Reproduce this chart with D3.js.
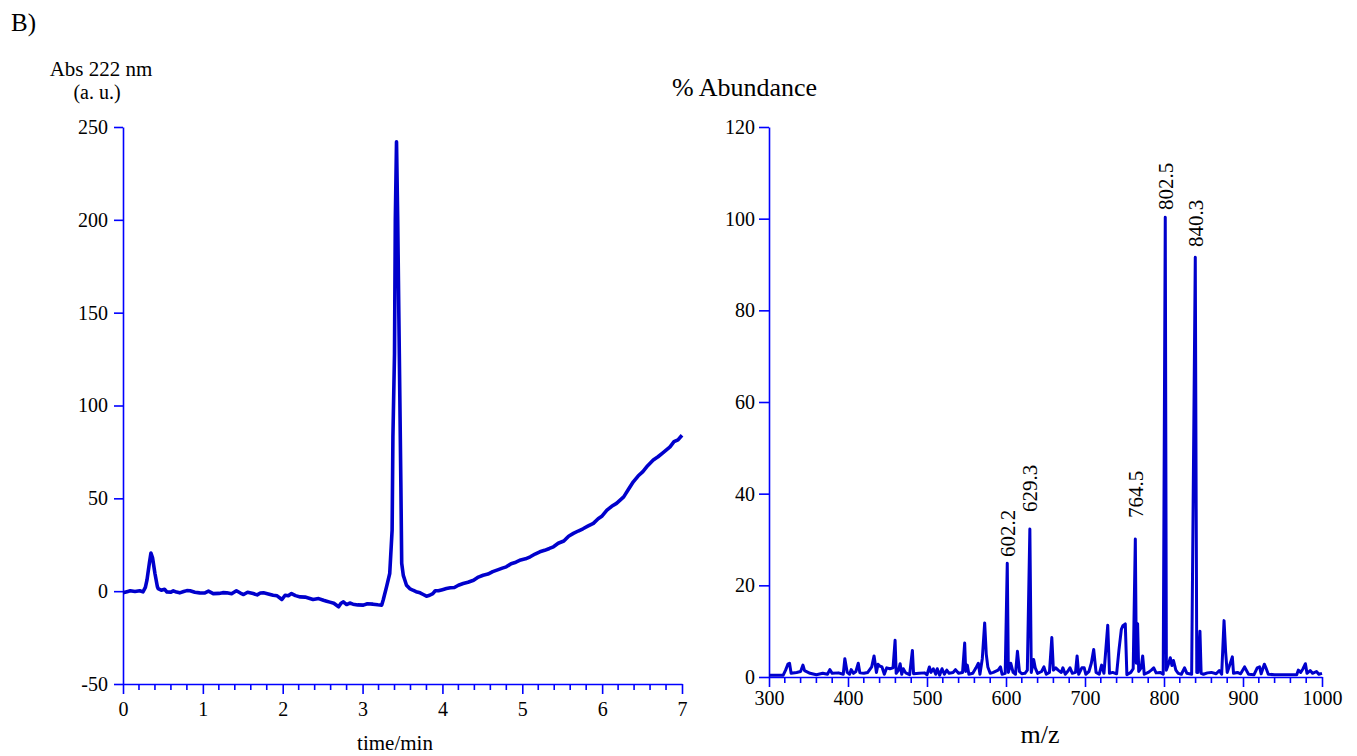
<html>
<head>
    <script src="https://cdnjs.cloudflare.com/ajax/libs/d3/7.8.5/d3.min.js"></script>
    <style>
        body { margin: 0; background: white; }
    </style>
</head>
<body>
<script>

// chromatogram, Abs 222 nm vs time (min)
var chromTime = [0.00,0.05,0.09,0.15,0.21,0.25,0.28,0.30,0.33,0.35,0.37,0.40,0.43,0.44,0.48,0.52,0.55,0.60,0.63,0.67,
    0.71,0.76,0.80,0.84,0.90,0.96,1.02,1.07,1.13,1.20,1.25,1.30,1.36,1.42,1.47,1.51,1.56,1.63,1.68,1.72,
    1.76,1.82,1.88,1.93,1.99,2.03,2.07,2.11,2.16,2.22,2.28,2.33,2.38,2.45,2.51,2.55,2.59,2.64,2.70,2.73,
    2.76,2.80,2.84,2.88,2.94,3.01,3.06,3.13,3.19,3.24,3.26,3.30,3.34,3.37,3.38,3.40,3.41,3.425,3.44,3.46,
    3.48,3.49,3.51,3.53,3.55,3.59,3.63,3.67,3.72,3.76,3.80,3.84,3.88,3.91,3.95,4.00,4.05,4.10,4.15,4.20,
    4.26,4.32,4.39,4.45,4.51,4.57,4.63,4.70,4.75,4.80,4.86,4.92,4.98,5.04,5.10,5.16,5.22,5.28,5.34,5.39,
    5.45,5.52,5.58,5.64,5.70,5.76,5.82,5.89,5.95,6.00,6.06,6.12,6.18,6.27,6.33,6.39,6.45,6.51,6.57,6.64,
    6.70,6.76,6.85,6.90,6.95,7.00];
var chromAbs = [-0.9,-0.3,0.2,-0.2,0.2,-0.4,2.0,5.9,15,20.5,18,9.5,2.5,1.4,0.5,1.0,-0.4,-0.5,0.2,-0.5,
    -0.9,-0.2,0.3,0.2,-0.6,-0.9,-1.0,0,-1.3,-1.2,-0.8,-0.9,-1.4,0.2,-1.0,-1.8,-0.6,-1.3,-2.0,-1.0,
    -0.9,-1.5,-2.2,-2.5,-4.5,-2.2,-2.5,-1.3,-2.4,-3.1,-3.2,-3.8,-4.5,-4.0,-4.9,-5.4,-5.9,-6.5,-8.4,-6.5,
    -5.8,-7.2,-6.4,-7.0,-7.4,-7.5,-6.8,-7.0,-7.3,-7.5,-4.5,2.3,9.5,32.9,83,128,200,242,200,128,
    56,15,8.5,5.9,3.2,1.4,0.5,-0.3,-0.9,-1.8,-2.7,-2.2,-1.3,0.2,0.2,0.8,1.4,1.8,2.0,3.2,
    4.1,4.8,5.9,7.6,8.6,9.2,10.5,11.6,12.4,13.1,14.8,15.6,16.8,17.4,18.5,20.0,21.2,22.0,23.0,23.9,
    25.8,27.0,29.6,31.1,32.4,33.6,35.0,36.5,39.0,40.5,43.6,45.7,47.3,50.8,54.9,58.9,62.0,64.4,67.6,70.6,
    72.4,74.5,77.7,80.5,81.5,84.0];

// mass spectrum, % abundance vs m/z
var msMz = [300,318,321,324,326,328,335,340,343,345,352,360,368,374,377,380,388,394,396,399,
    402,404,407,410,413,415,420,425,430,433,436,438,440,443,446,449,453,457,459.6,461,
    464,466,468,470,473,478,481.5,483,490,497,500,503,505,508,511,513,516,519,522,525,
    528,533,536,540,545,547.7,549,551,553,558,562,565,567,570,573,575,577,580,584,590,
    593,595,599,601.6,603,606,609,612,614.5,617,620,624,627,630.2,632,635,637,640,645,648,
    651,655,658,660,663,666,670,672,675,678,681,684,688,690,692,696,699,701,705,708,
    711,714,718,721,724,728.8,731,735,740,743,746,748,751,753,758,761,763.7,765,766.6,768,
    771,773,775,780,784,787,790,795,799,801.6,803,806,808,810,812,815,818,822,826,829,
    835,839.6,841.5,843,845.5,847,850,855,860,866,870,873,876,878,880,883,886.5,888,893,897,
    902,907,914,918,921,923,927,929,932,940,960,968,970,973,976,979,981,985,988,993,
    996,1000];
var msAbund = [0.4,0.4,1.5,2.8,3.0,0.8,1.0,1.2,2.6,1.4,0.8,0.5,0.8,0.6,1.6,0.8,0.9,0.6,4.0,1.0,
    0.6,1.6,0.8,1.2,3.0,0.9,0.8,1.0,2.2,4.6,1.0,2.8,2.4,2.2,0.6,2.0,1.8,2.0,8.0,0.8,
    1.5,2.9,0.6,1.8,0.9,0.5,5.8,0.7,0.8,0.9,0.5,2.2,1.0,1.8,0.6,1.8,0.4,1.8,0.6,1.5,
    0.8,1.0,1.6,0.8,1.0,7.4,1.2,2.6,0.6,0.8,2.0,3.0,0.6,4.0,11.8,5.0,2.2,0.8,1.0,1.5,
    2.2,0.6,0.8,24.8,1.0,3.0,1.0,0.6,5.6,1.2,0.7,0.8,1.5,32.3,1.0,3.8,2.0,0.8,1.2,2.2,
    0.6,1.0,8.6,1.5,2.0,1.5,1.0,2.0,0.6,1.2,2.0,0.8,1.0,4.6,0.6,2.0,2.0,0.6,1.2,3.0,
    6.0,1.0,0.6,2.6,0.8,11.3,0.8,1.0,0.7,5.9,10.4,11.2,11.6,0.5,1.0,1.8,30.1,3.0,11.6,1.2,
    2.0,4.6,0.6,1.0,1.5,2.0,0.9,1.0,0.6,100.3,1.5,3.0,4.2,2.5,3.6,1.5,0.8,0.6,2.0,0.8,
    0.6,91.6,1.0,1.0,10.0,0.8,0.6,0.9,1.0,0.7,1.4,0.6,12.3,5.5,1.0,2.5,4.4,0.8,1.0,0.7,
    2.2,0.6,0.5,2.0,2.2,0.7,2.8,2.0,0.6,0.5,0.5,0.5,1.5,1.0,1.8,2.9,0.8,1.4,0.8,1.2,
    0.6,0.8];

// peak labels: m/z position, text, abundance where the label starts
var peakMz = [601.6, 630.2, 763.7, 801.6, 839.6];
var peakText = ["602.2", "629.3", "764.5", "802.5", "840.3"];
var peakLabelAt = [26.2, 36.0, 34.7, 101.9, 93.8];

var chromYTicks = [-50, 0, 50, 100, 150, 200, 250];
var chromXTicks = [0, 1, 2, 3, 4, 5, 6, 7];
var msYTicks = [0, 20, 40, 60, 80, 100, 120];
var msXTicks = [300, 400, 500, 600, 700, 800, 900, 1000];

var axisColor = "#0000ff";
var lineColor = "#0000cc";
var serif = "Liberation Serif";

var svg = d3.select("body").append("svg")
    .attr("width", 1357)
    .attr("height", 756)
    .attr("font-family", serif);

function label(x, y, size, txt, anchor) {
    return svg.append("text")
        .attr("x", x).attr("y", y)
        .attr("text-anchor", anchor || "start")
        .attr("font-family", serif)
        .attr("font-size", size)
        .attr("fill", "black")
        .text(txt);
}

label(11, 31, 25, "B)");

// ---------- left: chromatogram ----------
var x1 = d3.scaleLinear().domain([0, 7]).range([123, 682]);
var y1 = d3.scaleLinear().domain([-50, 250]).range([684, 127]);

function styleAxis(g) {
    g.attr("font-family", serif).attr("font-size", 20);
    g.select(".domain").attr("stroke", axisColor).attr("stroke-width", 1.6);
    g.selectAll(".tick line").attr("stroke", axisColor).attr("stroke-width", 1.6);
    g.selectAll(".tick text")
        .attr("font-family", serif)
        .attr("font-size", 20)
        .attr("fill", "black");
}

// minor ticks x (0.2 min)
var chromMinor = d3.range(0, 71, 2).map(d => d / 10).filter(d => chromXTicks.indexOf(d) < 0);
svg.append("g").selectAll("line").data(chromMinor).enter().append("line")
    .attr("x1", d => x1(d)).attr("x2", d => x1(d))
    .attr("y1", 684).attr("y2", 690)
    .attr("stroke", axisColor).attr("stroke-width", 1.6);

var gx1 = svg.append("g").attr("transform", "translate(0,684)")
    .call(d3.axisBottom(x1).tickValues(chromXTicks).tickSize(10).tickSizeOuter(0).tickPadding(8)
        .tickFormat(d3.format("d")));
styleAxis(gx1);

var gy1 = svg.append("g").attr("transform", "translate(123,0)")
    .call(d3.axisLeft(y1).tickValues(chromYTicks).tickSize(9).tickSizeOuter(0).tickPadding(6)
        .tickFormat(d => d < 0 ? "-" + Math.abs(d) : String(d)));
styleAxis(gy1);

var chromLine = d3.line()
    .x((d, i) => x1(chromTime[i]))
    .y((d, i) => y1(chromAbs[i]));

svg.append("path")
    .datum(chromAbs)
    .attr("fill", "none")
    .attr("stroke", lineColor)
    .attr("stroke-width", 3.6)
    .attr("stroke-linejoin", "round")
    .attr("d", chromLine);

label(101, 76, 21, "Abs 222 nm", "middle");
label(97, 99, 20, "(a. u.)", "middle");
label(395, 750, 21, "time/min", "middle");

// ---------- right: mass spectrum ----------
var x2 = d3.scaleLinear().domain([300, 1000]).range([769, 1322]);
var y2 = d3.scaleLinear().domain([0, 120]).range([677, 127]);

var msMinor = d3.range(300, 1001, 20).filter(d => msXTicks.indexOf(d) < 0);
svg.append("g").selectAll("line").data(msMinor).enter().append("line")
    .attr("x1", d => x2(d)).attr("x2", d => x2(d))
    .attr("y1", 677).attr("y2", 683)
    .attr("stroke", axisColor).attr("stroke-width", 1.6);

var gx2 = svg.append("g").attr("transform", "translate(0,677)")
    .call(d3.axisBottom(x2).tickValues(msXTicks).tickSize(10).tickSizeOuter(0).tickPadding(4)
        .tickFormat(d3.format("d")));
styleAxis(gx2);

var gy2 = svg.append("g").attr("transform", "translate(769,0)")
    .call(d3.axisLeft(y2).tickValues(msYTicks).tickSize(10).tickSizeOuter(0).tickPadding(4)
        .tickFormat(d3.format("d")));
styleAxis(gy2);

var msLine = d3.line()
    .x((d, i) => x2(msMz[i]))
    .y((d, i) => y2(msAbund[i]));

svg.append("path")
    .datum(msAbund)
    .attr("fill", "none")
    .attr("stroke", lineColor)
    .attr("stroke-width", 3)
    .attr("stroke-linejoin", "round")
    .attr("d", msLine);

svg.selectAll(".peaklabel").data(peakText).enter().append("text")
    .attr("class", "peaklabel")
    .attr("transform", (d, i) => "translate(" + x2(peakMz[i]) + "," + y2(peakLabelAt[i]) + ") rotate(-90)")
    .attr("dy", "0.35em")
    .attr("font-family", serif)
    .attr("font-size", 21)
    .attr("fill", "black")
    .text(d => d);

label(672, 96, 26, "% Abundance");
label(1040, 743, 26, "m/z", "middle");

</script>
</body>
</html>
